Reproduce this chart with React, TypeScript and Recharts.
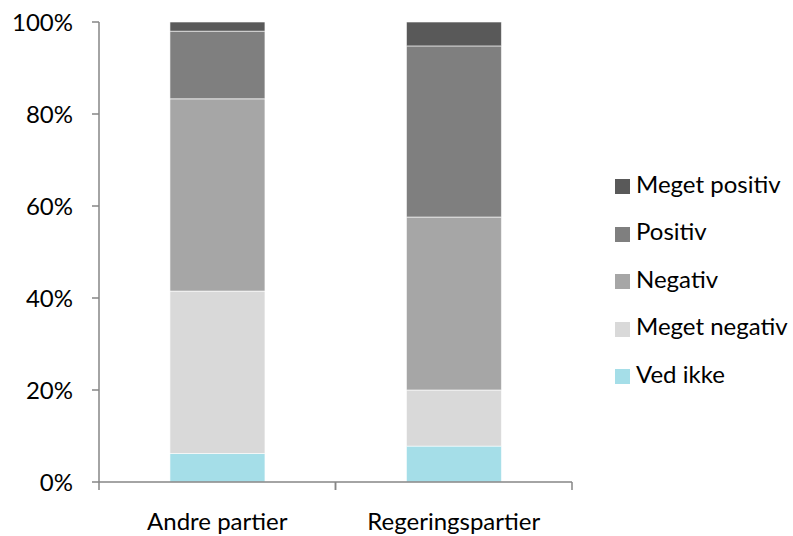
import React from 'react';
import { BarChart, Bar, XAxis, YAxis } from 'recharts';

const categories = ['Andre partier', 'Regeringspartier'];
const vedIkke = [6.2, 7.8];
const megetNegativ = [35.3, 12.2];
const negativ = [41.8, 37.6];
const positiv = [14.7, 37.2];
const megetPositiv = [2.0, 5.2];
const yTicks = [0, 20, 40, 60, 80, 100];

// stack order, bottom to top
const series = [
    { key: 'vedIkke', label: 'Ved ikke', color: '#a5dee8', values: vedIkke },
    { key: 'megetNegativ', label: 'Meget negativ', color: '#d9d9d9', values: megetNegativ },
    { key: 'negativ', label: 'Negativ', color: '#a6a6a6', values: negativ },
    { key: 'positiv', label: 'Positiv', color: '#7f7f7f', values: positiv },
    { key: 'megetPositiv', label: 'Meget positiv', color: '#595959', values: megetPositiv },
];

const data = categories.map((name, i) => {
    const row: Record<string, string | number> = { name };
    series.forEach(s => { row[s.key] = s.values[i]; });
    return row;
});

const axisColor = '#868686';
const font = 'Lato, "Open Sans", sans-serif';

const chartW = 793;
const chartH = 536;
const margin = { top: 22, right: 221, left: 0, bottom: 0 };
const yAxisW = 99;
const bandW = (chartW - margin.left - margin.right - yAxisW) / categories.length;

// category label plus the Excel-style tick marks at the band edges
const CategoryTick = (props: any) => {
    const { x, y, payload } = props;
    const half = payload && payload.offset ? payload.offset : bandW / 2;
    return (
        <g>
            <line x1={x - half} y1={y} x2={x - half} y2={y + 8} stroke={axisColor} strokeWidth={1.5} />
            <line x1={x + half} y1={y} x2={x + half} y2={y + 8} stroke={axisColor} strokeWidth={1.5} />
            <text x={x} y={y + 48} textAnchor="middle" fill="#000" fontSize={24} fontFamily={font}>
                {payload.value}
            </text>
        </g>
    );
};

const App: React.FC = () => {
    return (
        <div style={{ position: 'absolute', left: 0, top: 0, width: chartW, height: chartH, fontFamily: font }}>
            <BarChart
                width={chartW}
                height={chartH}
                data={data}
                margin={margin}
                barCategoryGap="30%"
            >
                <XAxis
                    dataKey="name"
                    stroke={axisColor}
                    strokeWidth={1.5}
                    tickLine={false}
                    tickSize={0}
                    tickMargin={0}
                    height={54}
                    interval={0}
                    tick={<CategoryTick />}
                />
                <YAxis
                    type="number"
                    domain={[0, 100]}
                    ticks={yTicks}
                    width={yAxisW}
                    tickSize={7}
                    tickMargin={19}
                    stroke={axisColor}
                    strokeWidth={1.5}
                    tickFormatter={(v: number) => `${v}%`}
                    tick={{ fill: '#000', fontSize: 24, fontFamily: font }}
                />
                {series.map(s => (
                    <Bar
                        key={s.key}
                        dataKey={s.key}
                        stackId="a"
                        fill={s.color}
                        stroke="#ffffff"
                        strokeWidth={0.6}
                        isAnimationActive={false}
                    />
                ))}
            </BarChart>
            <div style={{ position: 'absolute', left: 615, top: 163 }}>
                {[...series].reverse().map(s => (
                    <div key={s.key} style={{ display: 'flex', alignItems: 'center', height: 47.5 }}>
                        <span style={{ width: 15, height: 15, background: s.color, marginRight: 6 }} />
                        <span style={{ fontSize: 24, color: '#000', lineHeight: '30px', position: 'relative', top: -3 }}>{s.label}</span>
                    </div>
                ))}
            </div>
        </div>
    );
};

export default App;
